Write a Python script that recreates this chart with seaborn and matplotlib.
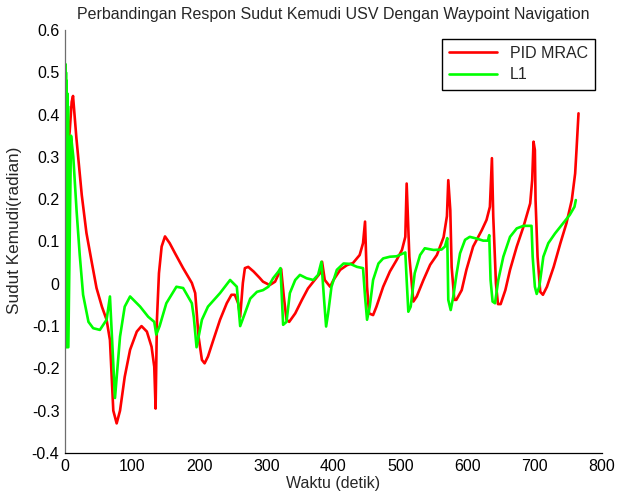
import matplotlib
matplotlib.use("Agg")
import matplotlib.pyplot as plt
import seaborn as sns
import pandas as pd

# Steering-angle response of the USV along the waypoint route (radian vs. seconds)
t_pid = [3, 7, 10, 12, 17, 25, 32, 40, 47, 55, 62, 67, 72, 77, 82, 89, 97, 107, 114, 122,
         129, 133, 135, 137, 140, 144, 149, 156, 164, 176, 189, 194, 199, 204, 208, 213, 221, 231, 241, 248,
         253, 258, 261, 265, 268, 273, 281, 290, 295, 305, 313, 320, 322, 326, 330, 334, 343, 353, 362, 372,
         380, 383, 387, 395, 400, 410, 420, 429, 439, 444, 447, 450, 453, 459, 464, 474, 484, 494, 502, 507,
         509, 513, 519, 524, 534, 544, 554, 564, 569, 571, 574, 576, 580, 583, 591, 598, 608, 621, 628, 633,
         636, 638, 642, 645, 649, 656, 663, 673, 683, 693, 696, 698, 700, 701, 704, 708, 712, 718, 728, 738,
         747, 755, 760, 762, 765]
v_pid = [0.30, 0.36, 0.43, 0.444, 0.345, 0.21, 0.12, 0.05, -0.01, -0.054, -0.085, -0.133, -0.30, -0.33, -0.30, -0.22, -0.156, -0.113, -0.10, -0.113,
         -0.149, -0.196, -0.295, -0.085, 0.025, 0.088, 0.112, 0.096, 0.072, 0.037, 0.002, -0.022, -0.125, -0.18, -0.188, -0.172, -0.133, -0.085, -0.046, -0.026,
         -0.026, -0.046, -0.078, 0.002, 0.037, 0.04, 0.029, 0.014, 0.005, -0.003, 0.005, 0.029, 0.035, -0.03, -0.085, -0.09, -0.07, -0.038, -0.011, 0.009,
         0.025, 0.052, 0.009, -0.007, 0.009, 0.033, 0.044, 0.049, 0.068, 0.096, 0.147, -0.007, -0.07, -0.074, -0.054, -0.007, 0.029, 0.056, 0.08, 0.111,
         0.237, 0.064, -0.042, -0.03, 0.009, 0.045, 0.068, 0.11, 0.16, 0.245, 0.174, 0.04, -0.038, -0.038, -0.015, 0.033, 0.088, 0.127, 0.151, 0.182,
         0.297, 0.159, 0.001, -0.048, -0.048, -0.015, 0.033, 0.088, 0.135, 0.19, 0.245, 0.336, 0.316, 0.198, 0.064, -0.019, -0.026, -0.007, 0.04, 0.096,
         0.143, 0.198, 0.261, 0.316, 0.403]

t_l1 = [0, 0.5, 1, 1.5, 2, 2.5, 3, 3.5, 4, 4.5, 5, 9, 12.4, 17.4, 22, 27, 35, 42, 52, 62,
        67, 74.5, 82, 89, 97, 112, 124, 133, 136, 141, 151, 166, 176, 189, 192, 196, 204, 213, 231, 246,
        256, 261, 268, 276, 286, 295, 303, 310, 318, 321, 325, 330, 335, 343, 350, 360, 370, 377, 382, 386,
        389, 392, 397, 405, 415, 425, 435, 444, 447, 450, 454, 459, 467, 474, 484, 494, 504, 507, 509, 511.5,
        515, 521, 529, 536, 549, 561, 566, 569.5, 571, 574.6, 578.5, 583.5, 588.5, 596, 603, 613, 623, 630, 632, 634,
        637, 640.6, 645.5, 653, 663, 673, 683, 695, 696.7, 700, 702.7, 706.6, 712.6, 720, 730, 742, 752, 759, 761]
v_l1 = [0.0, 0.52, -0.15, 0.50, -0.14, 0.48, -0.15, 0.45, -0.13, 0.42, -0.15, 0.35, 0.30, 0.17, 0.068, -0.026, -0.09, -0.105, -0.109, -0.085,
        -0.03, -0.27, -0.125, -0.054, -0.03, -0.054, -0.078, -0.09, -0.12, -0.10, -0.046, -0.007, -0.01, -0.046, -0.08, -0.15, -0.085, -0.054, -0.022, 0.009,
        -0.007, -0.10, -0.07, -0.035, -0.019, -0.015, -0.007, 0.013, 0.029, 0.037, -0.097, -0.09, -0.022, 0.009, 0.021, 0.013, 0.009, 0.021, 0.052, -0.038,
        -0.101, -0.07, -0.007, 0.033, 0.048, 0.047, 0.04, 0.037, -0.03, -0.085, -0.054, 0.009, 0.048, 0.06, 0.064, 0.065, 0.072, 0.074, 0.009, -0.066,
        -0.054, 0.025, 0.068, 0.084, 0.08, 0.081, 0.088, 0.108, -0.038, -0.062, -0.03, 0.025, 0.072, 0.104, 0.111, 0.107, 0.102, 0.102, 0.115, 0.009,
        -0.042, -0.046, 0.009, 0.064, 0.111, 0.131, 0.137, 0.137, 0.064, -0.007, -0.024, -0.007, 0.064, 0.096, 0.119, 0.143, 0.163, 0.182, 0.198]

series_names = ["PID MRAC", "L1"]
series_colors = ["#ff0000", "#00ff00"]

x_ticks = [0, 100, 200, 300, 400, 500, 600, 700, 800]
y_ticks = [-0.4, -0.3, -0.2, -0.1, 0, 0.1, 0.2, 0.3, 0.4, 0.5, 0.6]

df = pd.concat([
    pd.DataFrame({"Waktu": t_pid, "Sudut": v_pid, "Metode": series_names[0]}),
    pd.DataFrame({"Waktu": t_l1, "Sudut": v_l1, "Metode": series_names[1]}),
], ignore_index=True)

sns.set_style("white")
plt.rcParams["font.family"] = ["Liberation Sans", "DejaVu Sans"]
fs = 11.5
plt.rcParams["font.size"] = fs

fig, ax = plt.subplots(figsize=(6.17, 4.99), dpi=100)
fig.subplots_adjust(left=0.1053, right=0.9757, bottom=0.0922, top=0.9399)

sns.lineplot(data=df, x="Waktu", y="Sudut", hue="Metode", hue_order=series_names,
             palette=series_colors, sort=False, estimator=None, linewidth=1.9, ax=ax)

ax.set_xlim(0, 800)
ax.set_ylim(-0.4, 0.6)
ax.set_xticks(x_ticks)
ax.set_xticklabels([str(v) for v in x_ticks])
ax.set_yticks(y_ticks)
ax.set_yticklabels(["0" if v == 0 else f"{v:g}" for v in y_ticks])

for side in ("top", "right"):
    ax.spines[side].set_visible(False)
ax.spines["left"].set_color("#6e6e6e")
ax.spines["bottom"].set_color("#000000")
for side in ("left", "bottom"):
    ax.spines[side].set_linewidth(0.9)
ax.tick_params(axis="both", direction="in", length=4, width=0.8, colors="#000000",
               labelsize=fs, pad=4)

ax.set_xlabel("Waktu (detik)", fontsize=fs, labelpad=2)
ax.set_ylabel("Sudut Kemudi(radian)", fontsize=12.3)
ax.yaxis.set_label_coords(-0.080, 0.527)
ax.set_title("Perbandingan Respon Sudut Kemudi USV Dengan Waypoint Navigation",
             fontsize=fs, pad=8)

leg = ax.legend(loc="upper right", bbox_to_anchor=(0.987, 0.979), frameon=True,
                fancybox=False, framealpha=1, edgecolor="#000000", handlelength=3.0,
                borderpad=0.45, labelspacing=0.4, fontsize=fs, borderaxespad=0)
leg.get_frame().set_linewidth(1.0)
for line in leg.get_lines():
    line.set_linewidth(1.9)

fig.savefig("out.png", dpi=100)
